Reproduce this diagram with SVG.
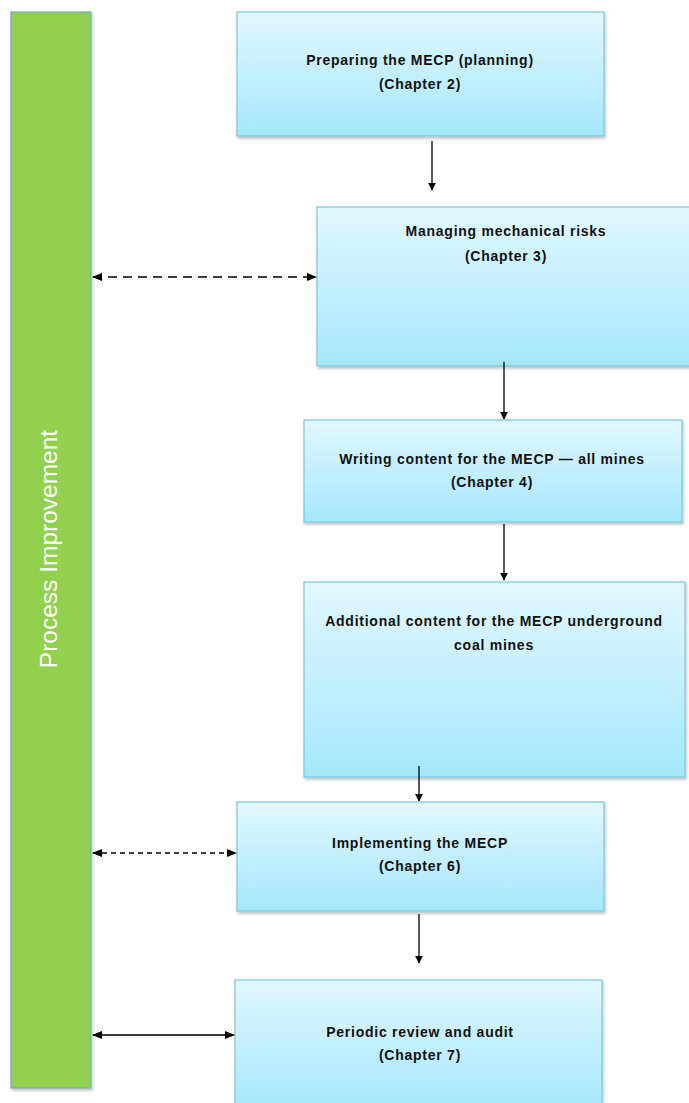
<svg xmlns="http://www.w3.org/2000/svg" width="689" height="1103" viewBox="0 0 689 1103">
<defs>
<linearGradient id="bg" x1="0" y1="0" x2="0" y2="1">
<stop offset="0" stop-color="#e3f8fe"/>
<stop offset="1" stop-color="#a3e7fb"/>
</linearGradient>
<filter id="sh" x="-5%" y="-5%" width="110%" height="115%">
<feDropShadow dx="1" dy="2" stdDeviation="1.5" flood-color="#000" flood-opacity="0.25"/>
</filter>
<marker id="ah" viewBox="0 0 10 10" refX="9" refY="5" markerWidth="8" markerHeight="9" orient="auto-start-reverse" markerUnits="userSpaceOnUse">
<path d="M0,0 L10,5 L0,10 z" fill="#000"/>
</marker>
<marker id="ah2" viewBox="0 0 10 10" refX="9" refY="5" markerWidth="10" markerHeight="10" orient="auto-start-reverse" markerUnits="userSpaceOnUse">
<path d="M0,1 L10,5 L0,9 z" fill="#000"/>
</marker>
</defs>
<style>
.box{fill:url(#bg);stroke:#7cc7dc;stroke-width:1.2;filter:url(#sh)}
.t{font-family:"Liberation Sans",Arial,sans-serif;font-weight:bold;font-size:14px;letter-spacing:0.75px;fill:#111;text-anchor:middle}
.c{stroke:#000;stroke-width:1.3;fill:none}
</style>
<g id="process-improvement">
<rect x="11" y="12" width="80" height="1076" fill="#92d050" stroke="#7aaabb" stroke-width="1.2" filter="url(#sh)"/>
<text transform="translate(57,549) rotate(-90)" text-anchor="middle" font-family="'Liberation Sans',Arial,sans-serif" font-size="24.5" fill="#fff">Process Improvement</text>
</g>
<g id="n1">
<rect class="box" x="237" y="12" width="367" height="124"/>
<text class="t" x="420" y="65">Preparing the MECP (planning)</text>
<text class="t" x="420" y="89">(Chapter 2)</text>
</g>
<g id="n2">
<rect class="box" x="317" y="207" width="380" height="159"/>
<text class="t" x="506" y="236">Managing mechanical risks</text>
<text class="t" x="506" y="261">(Chapter 3)</text>
</g>
<g id="n3">
<rect class="box" x="304" y="420" width="378" height="102"/>
<text class="t" x="492" y="464">Writing content for the MECP — all mines</text>
<text class="t" x="492" y="487">(Chapter 4)</text>
</g>
<g id="n4">
<rect class="box" x="304" y="582" width="381" height="195"/>
<text class="t" x="494" y="626">Additional content for the MECP underground</text>
<text class="t" x="494" y="650">coal mines</text>
</g>
<g id="n5">
<rect class="box" x="237" y="802" width="367" height="109"/>
<text class="t" x="420" y="848">Implementing the MECP</text>
<text class="t" x="420" y="871">(Chapter 6)</text>
</g>
<g id="n6">
<rect class="box" x="235" y="980" width="367" height="130"/>
<text class="t" x="420" y="1037">Periodic review and audit</text>
<text class="t" x="420" y="1060">(Chapter 7)</text>
</g>
<g id="connectors">
<line class="c" x1="432" y1="141" x2="432" y2="190" marker-end="url(#ah)"/>
<line class="c" x1="504" y1="362" x2="504" y2="419" marker-end="url(#ah)"/>
<line class="c" x1="504" y1="524" x2="504" y2="580" marker-end="url(#ah)"/>
<line class="c" x1="419" y1="766" x2="419" y2="801" marker-end="url(#ah)"/>
<line class="c" x1="419" y1="914" x2="419" y2="963" marker-end="url(#ah)"/>
<line class="c" x1="93" y1="277" x2="316" y2="277" stroke-dasharray="9,6" marker-start="url(#ah2)" marker-end="url(#ah2)"/>
<line class="c" x1="93" y1="853" x2="236" y2="853" stroke-dasharray="5,4" marker-start="url(#ah2)" marker-end="url(#ah2)"/>
<line class="c" x1="93" y1="1035" x2="234" y2="1035" marker-start="url(#ah2)" marker-end="url(#ah2)"/>
</g>
</svg>
